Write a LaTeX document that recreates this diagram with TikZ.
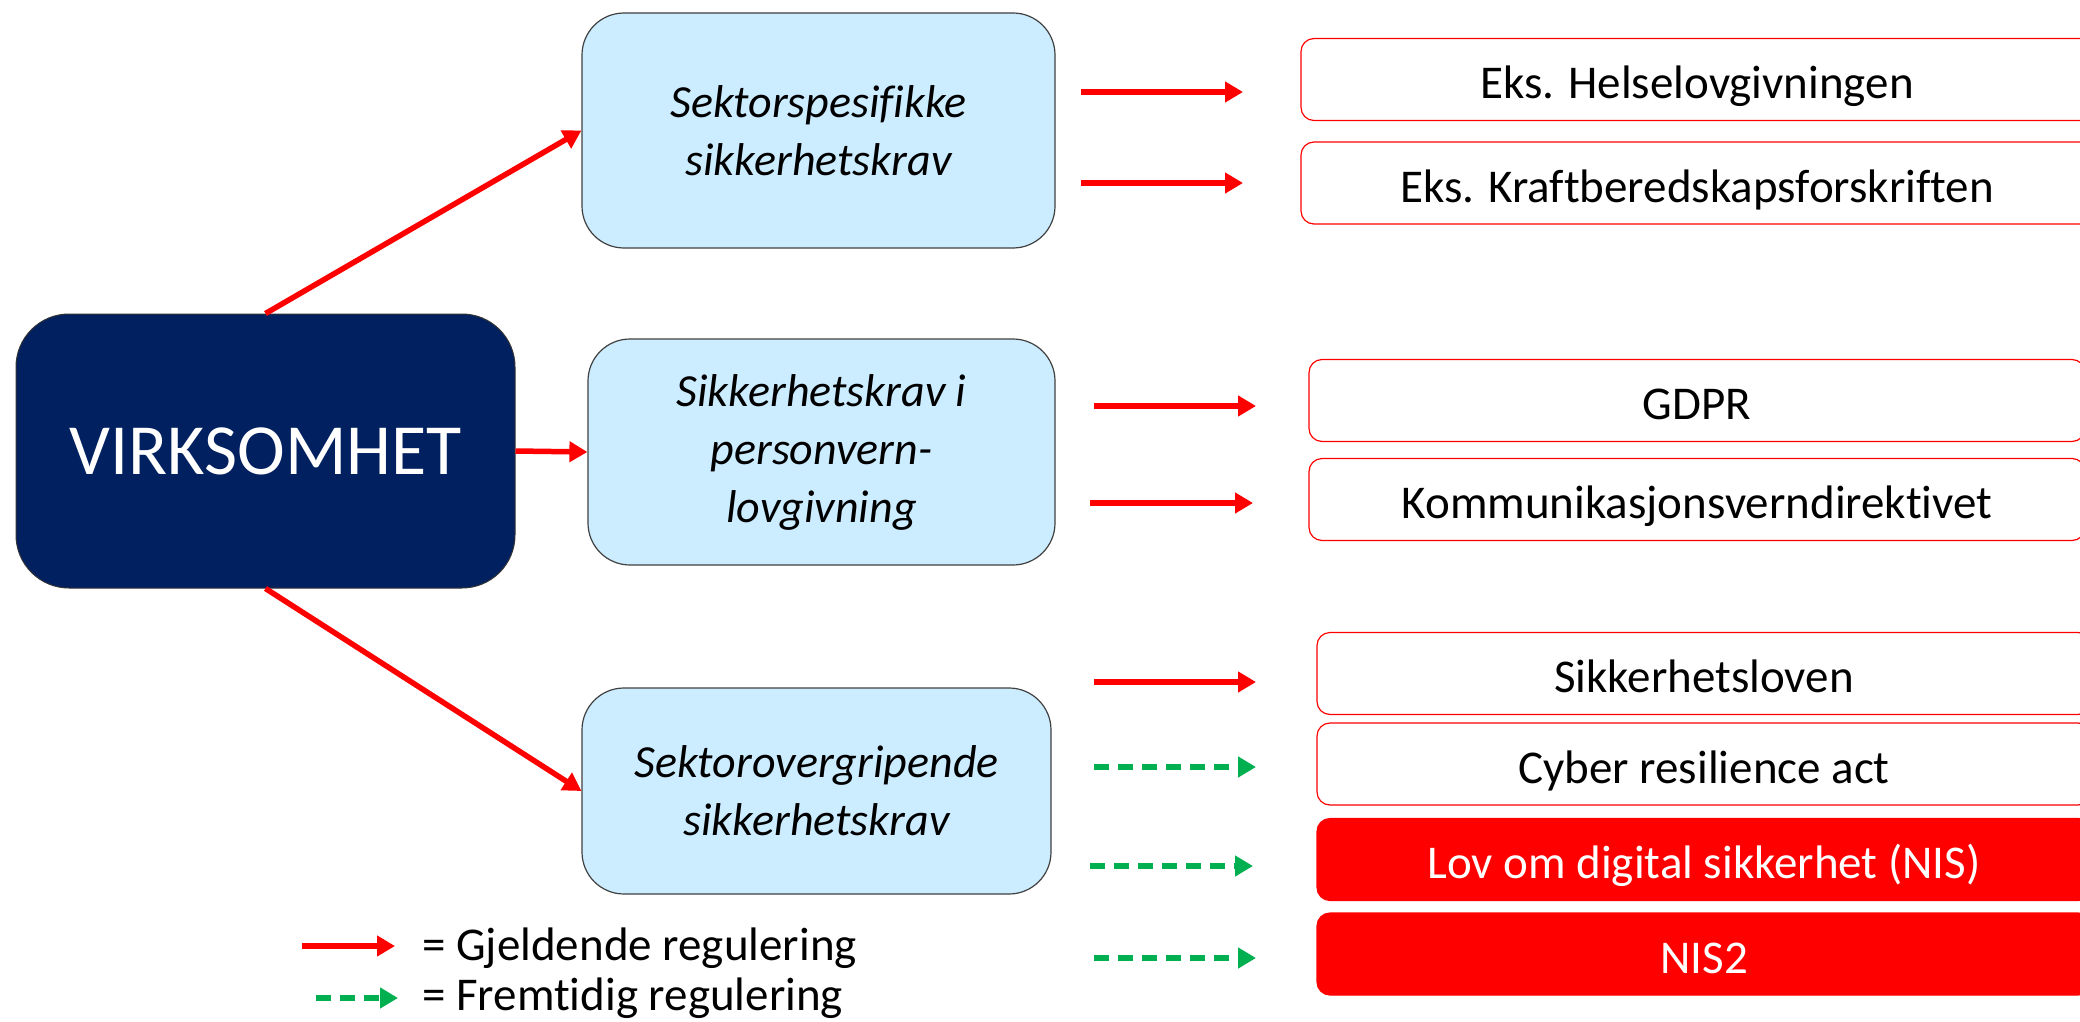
\documentclass[tikz,border=0pt]{standalone}
\usepackage{fontspec}
\setmainfont{Carlito}[Ligatures={NoCommon,NoContextual}]
\usetikzlibrary{arrows.meta}
\definecolor{navy}{HTML}{002060}
\definecolor{lblue}{HTML}{CCECFF}
\definecolor{rred}{HTML}{FF0000}
\definecolor{ggreen}{HTML}{00B050}
\begin{document}
\begin{tikzpicture}[x=1pt,y=-1pt,
  redarrow/.style={draw=rred, line width=5.5pt, -{Triangle[width=20pt,length=18pt]}},
  greenarrow/.style={draw=ggreen, line width=5.5pt, dash pattern=on 15pt off 9pt, -{Triangle[width=20pt,length=18pt]}},
  mainbox/.style={rounded corners=53pt, fill=navy, draw=black!80, line width=1pt, text=white, minimum width=499pt, minimum height=274pt, inner sep=0pt, font=\fontsize{72}{86}\selectfont},
  catbox/.style={rounded corners=42pt, fill=lblue, draw=black!75, line width=1.2pt, align=center, inner sep=0pt, font=\fontsize{46}{58}\selectfont\itshape},
  lawbox/.style={rounded corners=13pt, draw=rred, fill=white, line width=1.2pt, minimum width=792pt, minimum height=82pt, inner sep=0pt, text height=40pt, text depth=2pt, font=\fontsize{47}{56}\selectfont},
  lawboxfilled/.style={lawbox, fill=rred, text=white},
  legendtext/.style={anchor=west, inner sep=0pt, font=\fontsize{47}{56}\selectfont}
]
\useasboundingbox (0,0) rectangle (2080,1022);
\clip (0,0) rectangle (2080,1022);

\node[mainbox] (V) at (265.5,451) {VIRKSOMHET};
\node[catbox, minimum width=473pt, minimum height=235pt] (S1) at (818.5,130.5) {Sektorspesifikke\\sikkerhetskrav};
\node[catbox, minimum width=467pt, minimum height=226pt] (S2) at (821.5,452) {Sikkerhetskrav i\\personvern-\\lovgivning};
\node[catbox, minimum width=469pt, minimum height=206pt] (S3) at (816.5,791) {Sektorovergripende\\sikkerhetskrav};

\draw[redarrow] (V.north) -- (S1.west);
\draw[redarrow] (V.east) -- (S2.west);
\draw[redarrow] (V.south) -- (S3.west);

\node[lawbox] (L1) at (1697,79.5) {Eks. Helselovgivningen};
\node[lawbox] (L2) at (1697,183) {Eks. Kraftberedskapsforskriften};
\node[lawbox, minimum width=776pt] (L3) at (1697,400.5) {GDPR};
\node[lawbox, minimum width=776pt] (L4) at (1697,499.5) {Kommunikasjonsverndirektivet};
\node[lawbox, minimum width=774pt] (L5) at (1704,673.5) {Sikkerhetsloven};
\node[lawbox, minimum width=774pt] (L6) at (1704,764) {Cyber resilience act};
\node[lawboxfilled, minimum width=774pt] (L7) at (1704,859.5) {Lov om digital sikkerhet (NIS)};
\node[lawboxfilled, minimum width=774pt] (L8) at (1704,954) {NIS2};

\coordinate (a1s) at (1081,92);  \coordinate (a1e) at (1243,92);
\coordinate (a2s) at (1081,183); \coordinate (a2e) at (1243,183);
\coordinate (a3s) at (1094,406); \coordinate (a3e) at (1256,406);
\coordinate (a4s) at (1090,503); \coordinate (a4e) at (1253,503);
\coordinate (a5s) at (1094,682); \coordinate (a5e) at (1256,682);
\coordinate (a6s) at (1094,767); \coordinate (a6e) at (1256,767);
\coordinate (a7s) at (1090,866); \coordinate (a7e) at (1253,866);
\coordinate (a8s) at (1094,958); \coordinate (a8e) at (1256,958);

\draw[redarrow] (a1s) -- (a1e);
\draw[redarrow] (a2s) -- (a2e);
\draw[redarrow] (a3s) -- (a3e);
\draw[redarrow] (a4s) -- (a4e);
\draw[redarrow] (a5s) -- (a5e);
\draw[greenarrow] (a6s) -- (a6e);
\draw[greenarrow] (a7s) -- (a7e);
\draw[greenarrow] (a8s) -- (a8e);

\coordinate (lr1) at (302,946); \coordinate (lr2) at (395,946);
\coordinate (lg1) at (316,998); \coordinate (lg2) at (398,998);
\draw[redarrow] (lr1) -- (lr2);
\draw[greenarrow] (lg1) -- (lg2);
\node[legendtext] (LG1) at (422,948) {= Gjeldende regulering};
\node[legendtext] (LG2) at (422,998) {= Fremtidig regulering};
\end{tikzpicture}
\end{document}
